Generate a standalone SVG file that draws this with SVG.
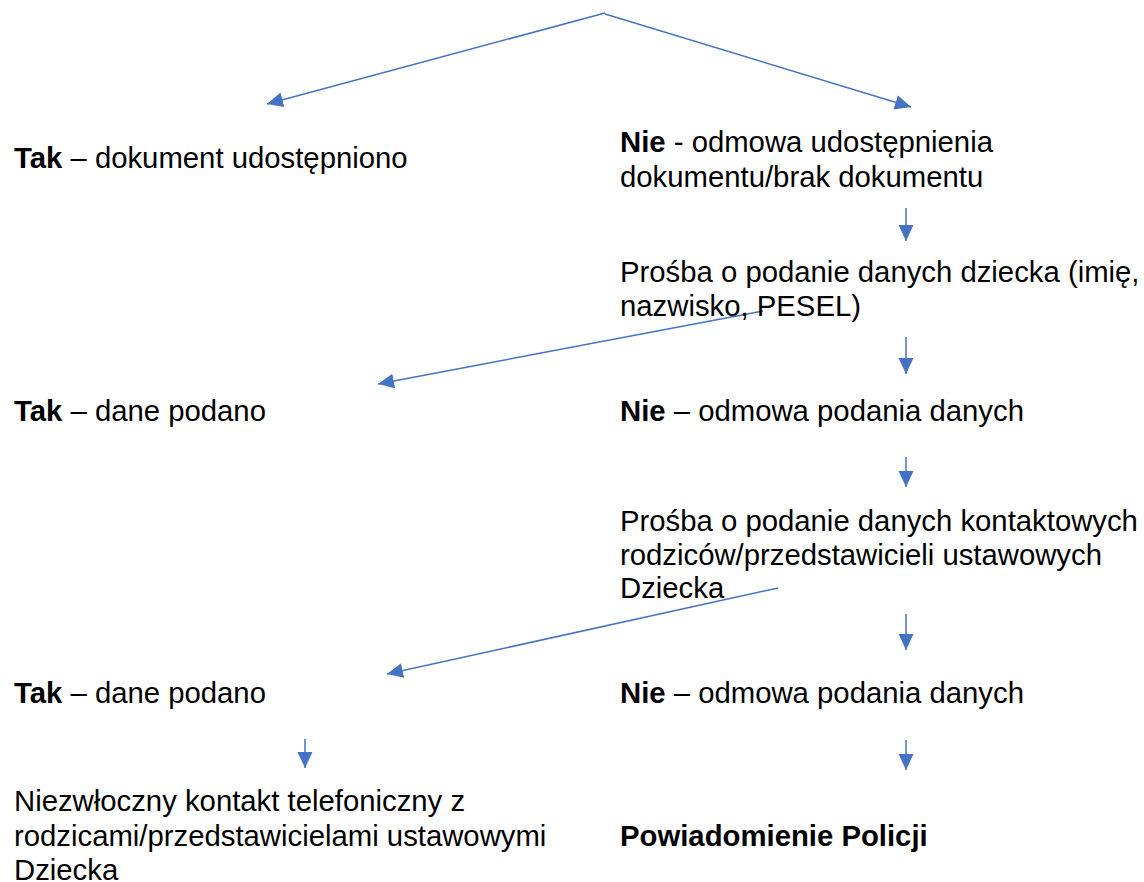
<svg xmlns="http://www.w3.org/2000/svg" width="1144" height="882" viewBox="0 0 1144 882">
<style>
text{font-family:"Liberation Sans",Arial,sans-serif;font-size:29.3px;fill:#000}
.b{font-weight:bold}
.c{stroke:#4472C4;stroke-width:1.5;fill:none}
</style>
<defs>
<marker id="ah" markerUnits="userSpaceOnUse" markerWidth="17" markerHeight="16" refX="16" refY="7.5" orient="auto">
<path d="M0,0 L16,7.5 L0,15 z" fill="#4472C4"/>
</marker>
</defs>
<rect width="1144" height="882" fill="#fff"/>
<g id="connectors">
<line class="c" x1="605" y1="13" x2="267" y2="104" marker-end="url(#ah)"/>
<line class="c" x1="605" y1="14" x2="911" y2="107" marker-end="url(#ah)"/>
<line class="c" x1="906" y1="208" x2="906" y2="241" marker-end="url(#ah)"/>
<line class="c" x1="906" y1="337" x2="906" y2="374" marker-end="url(#ah)"/>
<line class="c" x1="763" y1="311" x2="378" y2="384" marker-end="url(#ah)"/>
<line class="c" x1="906" y1="457" x2="906" y2="487" marker-end="url(#ah)"/>
<line class="c" x1="906" y1="614" x2="906" y2="650" marker-end="url(#ah)"/>
<line class="c" x1="778" y1="588" x2="387" y2="674" marker-end="url(#ah)"/>
<line class="c" x1="305" y1="739" x2="305" y2="768" marker-end="url(#ah)"/>
<line class="c" x1="906" y1="740" x2="906" y2="770" marker-end="url(#ah)"/>
</g>
<g id="n1"><text x="14" y="168"><tspan class="b">Tak</tspan> – dokument udostępniono</text></g>
<g id="n2"><text x="620" y="152"><tspan class="b">Nie</tspan> - odmowa udostępnienia</text><text x="620" y="187">dokumentu/brak dokumentu</text></g>
<g id="n3"><text x="620" y="282">Prośba o podanie danych dziecka (imię,</text><text x="620" y="316">nazwisko, PESEL)</text></g>
<g id="n4"><text x="14" y="421"><tspan class="b">Tak</tspan> – dane podano</text></g>
<g id="n5"><text x="620" y="421"><tspan class="b">Nie</tspan> – odmowa podania danych</text></g>
<g id="n6"><text x="620" y="531">Prośba o podanie danych kontaktowych</text><text x="620" y="565">rodziców/przedstawicieli ustawowych</text><text x="620" y="598">Dziecka</text></g>
<g id="n7"><text x="14" y="703"><tspan class="b">Tak</tspan> – dane podano</text></g>
<g id="n8"><text x="620" y="703"><tspan class="b">Nie</tspan> – odmowa podania danych</text></g>
<g id="n9"><text x="14" y="811">Niezwłoczny kontakt telefoniczny z</text><text x="14" y="846">rodzicami/przedstawicielami ustawowymi</text><text x="14" y="880">Dziecka</text></g>
<g id="n10"><text x="620" y="846" class="b">Powiadomienie Policji</text></g>
</svg>
